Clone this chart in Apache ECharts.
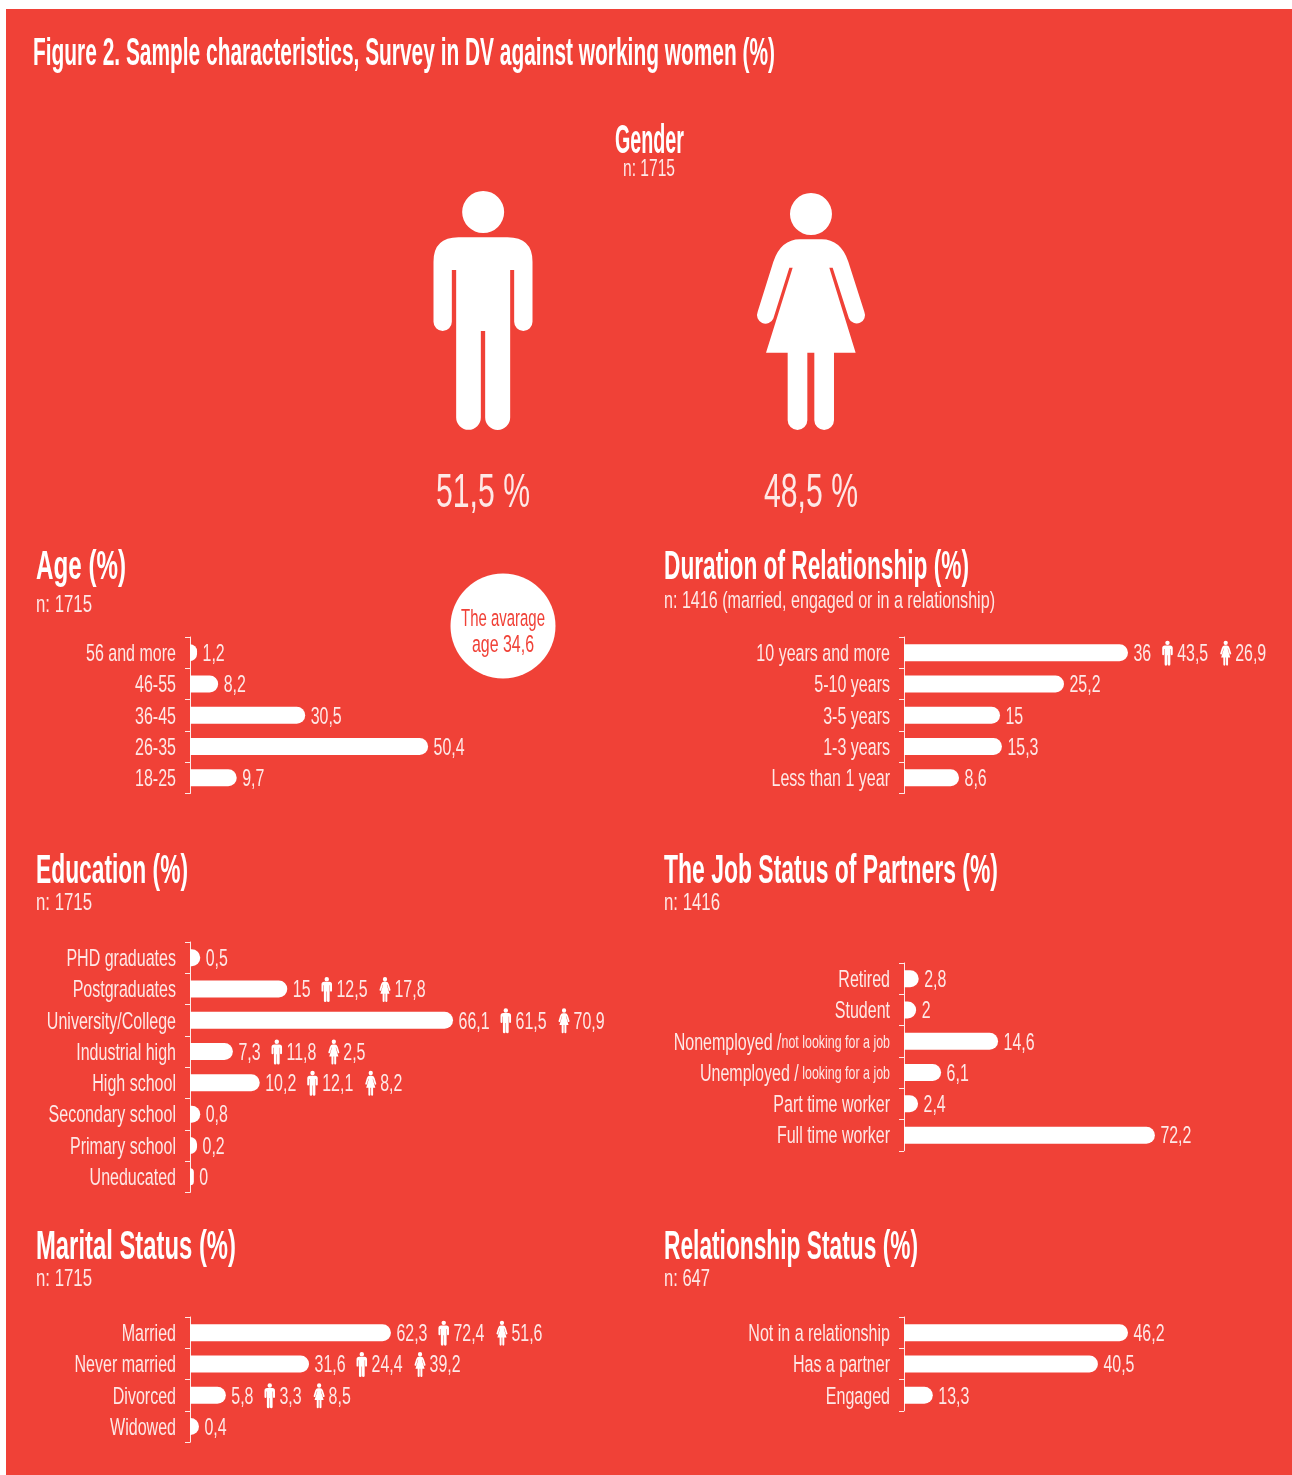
<!DOCTYPE html>
<html><head><meta charset="utf-8">
<style>html,body{margin:0;padding:0;background:#fff}#c{width:1292px;height:1475px}</style>
<script src="https://cdn.jsdelivr.net/npm/echarts@6/dist/echarts.min.js"></script>
</head><body><div id="c"></div>
<script>
// Printed numbers are kept apart from the drawn bar lengths: in the reference the
// bars are not proportional to their printed values, so *Drawn arrays hold the length
// each bar has in the picture (in axis units), and *Values hold the published figure.
const genderLabels = ['51,5 %', '48,5 %'];

const ageCats = ['56 and more', '46-55', '36-45', '26-35', '18-25'];
const ageValues = [1.2, 8.2, 30.5, 50.4, 9.7];
const ageDrawn = [1.1, 4.4, 18, 37.2, 7.3];

const durCats = ['10 years and more', '5-10 years', '3-5 years', '1-3 years', 'Less than 1 year'];
const durValues = [36, 25.2, 15, 15.3, 8.6];
const durDrawn = [35, 25, 15, 15.3, 8.6];
const durMen = [43.5, null, null, null, null];
const durWomen = [26.9, null, null, null, null];

const eduCats = ['PHD graduates', 'Postgraduates', 'University/College', 'Industrial high', 'High school', 'Secondary school', 'Primary school', 'Uneducated'];
const eduValues = [0.5, 15, 66.1, 7.3, 10.2, 0.8, 0.2, 0];
const eduDrawn = [1.6, 15.2, 41.1, 6.7, 10.9, 1.6, 1.1, 0.6];
const eduMen = [null, 12.5, 61.5, 11.8, 12.1, null, null, null];
const eduWomen = [null, 17.8, 70.9, 2.5, 8.2, null, null, null];

const jobCats = ['Retired', 'Student', 'Nonemployed /not looking for a job', 'Unemployed / looking for a job', 'Part time worker', 'Full time worker'];
const jobValues = [2.8, 2, 14.6, 6.1, 2.4, 72.2];
const jobDrawn = [2.3, 1.9, 14.7, 5.8, 2.2, 39.2];

const marCats = ['Married', 'Never married', 'Divorced', 'Widowed'];
const marValues = [62.3, 31.6, 5.8, 0.4];
const marDrawn = [31.4, 18.6, 5.6, 1.4];
const marMen = [72.4, 24.4, 3.3, null];
const marWomen = [51.6, 39.2, 8.5, null];

const relCats = ['Not in a relationship', 'Has a partner', 'Engaged'];
const relValues = [46.2, 40.5, 13.3];
const relDrawn = [35, 30.3, 4.5];

const RED = '#F04137', WHITE = '#fff', SOFT = 'rgba(255,255,255,0.88)';
const FONT = '"Liberation Sans Narrow","Liberation Sans",sans-serif';
const MAN = 'M249 33A63 63 0 1 1 248.9 33ZM100 245Q100 172 175 172L322 172Q397 172 397 245L397 425A27.5 27.5 0 0 1 342 425L342 270L330 270L330 712A37.5 37.5 0 0 1 255 712L255 453L242 453L242 712A37 37 0 0 1 168 712L168 270L155 270L155 425A27.5 27.5 0 0 1 100 425Z';
const WOMAN = 'M1233 39A63 63 0 1 1 1232.9 39ZM1200 178L1265 178Q1322 178 1345 245L1393 395A24 24 0 0 1 1347 415L1298 263L1288 263L1367 518L1302 518L1302 720A29.5 29.5 0 0 1 1243 720L1243 518L1222 518L1222 720A29.5 29.5 0 0 1 1163 720L1163 518L1098 518L1178 263L1168 263L1120 415A24 24 0 0 1 1073 395L1120 245Q1143 178 1200 178Z';

const ctx = document.createElement('canvas').getContext('2d');
const fnt = (size, bold) => (bold ? 'bold ' : '') + size + 'px ' + FONT;
const measure = (t, f) => { ctx.font = f; return ctx.measureText(t).width; };
const S_TXT = 24.5, S_SMALL = 19, S_HEAD = 40, S_BIG = 48;
const SCALE_CAT = 90 / measure('56 and more', fnt(S_TXT));
const SCALE_VAL = 31 / measure('50,4', fnt(S_TXT));
const comma = v => String(v).replace('.', ',');

function T(text, x, y, size, bold, scale, align, fill) {
  return { type: 'text', x, y: y + 1.5, scaleX: scale, silent: true,
    style: { text, x: 0, y: 0, font: fnt(size, bold), fill: fill || (bold ? WHITE : SOFT), align: align || 'left', verticalAlign: 'middle' } };
}
// Text squeezed to the width it has in the reference.
function F(text, x, y, size, bold, width, align, fill) {
  return T(text, x, y, size, bold, width / measure(text, fnt(size, bold)), align, fill);
}
function icon(d, x, cy, w) {
  return { type: 'path', silent: true, shape: { pathData: d, x, y: cy - 12, width: w, height: 25, layout: 'cover' }, style: { fill: WHITE } };
}
function catLabel(text, x, y) {
  const i = text.indexOf('/');
  const el = T(text, x, y, S_TXT, false, SCALE_CAT, 'right');
  if (text.includes('job')) {
    el.style.text = '{a|' + text.slice(0, i + 1) + '}{b|' + text.slice(i + 1) + '}';
    el.style.rich = { a: { font: fnt(S_TXT), fill: SOFT }, b: { font: fnt(S_SMALL), fill: SOFT } };
  }
  return el;
}

function panel(idx, cats, values, drawn, men, women, left, top) {
  const grid = { left, top, width: 384, height: cats.length * 31.3 };
  const xAxis = { gridIndex: idx, type: 'value', min: 0, max: 60, show: false };
  const yAxis = { gridIndex: idx, type: 'category', inverse: true, data: cats,
    axisLine: { show: true, lineStyle: { color: SOFT, width: 1 } },
    axisTick: { show: true, length: 5, lineStyle: { color: SOFT, width: 1 } },
    axisLabel: { show: false }, splitLine: { show: false } };
  const bar = { type: 'bar', xAxisIndex: idx, yAxisIndex: idx, data: drawn, barWidth: 17, silent: true,
    itemStyle: { color: WHITE, borderRadius: [0, 8.5, 8.5, 0] } };
  const labels = { type: 'custom', xAxisIndex: idx, yAxisIndex: idx, silent: true, z: 5,
    encode: { x: 0, y: 1 }, data: drawn.map((d, i) => [d, i]),
    renderItem(params, api) {
      const i = api.value(1);
      const [ex, y] = api.coord([api.value(0), i]);
      const kids = [catLabel(cats[i], left - 14, y)];
      const f = fnt(S_TXT);
      let x = ex + 5.5;
      const put = t => { kids.push(T(t, x, y, S_TXT, false, SCALE_VAL)); x += measure(t, f) * SCALE_VAL; };
      put(comma(values[i]));
      if (men && men[i] != null) {
        x += 11; kids.push(icon(MAN, x, y, 10.5)); x += 15; put(comma(men[i]));
        x += 12; kids.push(icon(WOMAN, x, y, 11)); x += 15; put(comma(women[i]));
      }
      return { type: 'group', children: kids };
    } };
  return { grid, xAxis, yAxis, series: [bar, labels] };
}

const panels = [
  panel(0, ageCats, ageValues, ageDrawn, null, null, 190, 637),
  panel(1, durCats, durValues, durDrawn, durMen, durWomen, 904, 637),
  panel(2, eduCats, eduValues, eduDrawn, eduMen, eduWomen, 190, 942),
  panel(3, jobCats, jobValues, jobDrawn, null, null, 904, 963),
  panel(4, marCats, marValues, marDrawn, marMen, marWomen, 190, 1317),
  panel(5, relCats, relValues, relDrawn, null, null, 904, 1317)
];

// The two large figures sit above their share of the sample.
const genderSeries = { type: 'custom', coordinateSystem: 'none', silent: true, z: 5,
  data: genderLabels.map((l, i) => [i]),
  renderItem(params, api) {
    const i = api.value(0);
    const box = i === 0 ? { pathData: MAN, x: 433.5, y: 191, width: 99, height: 239 }
                        : { pathData: WOMAN, x: 757, y: 193, width: 108, height: 237 };
    return { type: 'group', children: [
      { type: 'path', silent: true, shape: { ...box, layout: 'cover' }, style: { fill: WHITE } },
      F(genderLabels[i], i === 0 ? 483 : 811, 492, S_BIG, false, 94, 'center')
    ] };
  } };

const graphic = [
  { type: 'rect', z: -10, silent: true, shape: { x: 6, y: 9, width: 1286, height: 1466 }, style: { fill: RED } },
  F('Figure 2. Sample characteristics, Survey in DV against working women (%)', 33, 52.5, 39, true, 742),
  F('Gender', 649.5, 140.5, S_HEAD, true, 69, 'center'),
  F('n: 1715', 649, 168, S_TXT, false, 52, 'center'),
  F('Age (%)', 36, 566.5, S_HEAD, true, 90), F('n: 1715', 36, 604, S_TXT, false, 56),
  F('Duration of Relationship (%)', 664, 566.5, S_HEAD, true, 305), F('n: 1416 (married, engaged or in a relationship)', 664, 600, S_TXT, false, 331),
  F('Education (%)', 36, 870.5, S_HEAD, true, 152), F('n: 1715', 36, 902, S_TXT, false, 56),
  F('The Job Status of Partners (%)', 664, 870.5, S_HEAD, true, 334), F('n: 1416', 664, 902, S_TXT, false, 56),
  F('Marital Status (%)', 36, 1246.5, S_HEAD, true, 200), F('n: 1715', 36, 1278, S_TXT, false, 56),
  F('Relationship Status (%)', 664, 1246.5, S_HEAD, true, 254), F('n: 647', 664, 1278, S_TXT, false, 46),
  { type: 'circle', silent: true, shape: { cx: 503, cy: 626, r: 52.5 }, style: { fill: WHITE } },
  F('The avarage', 503, 618, S_TXT, false, 84, 'center', RED),
  F('age 34,6', 503, 644, S_TXT, false, 62, 'center', RED)
];

const chart = echarts.init(document.getElementById('c'), null, { renderer: 'canvas' });
chart.setOption({
  animation: false,
  backgroundColor: '#fff',
  grid: panels.map(p => p.grid),
  xAxis: panels.map(p => p.xAxis),
  yAxis: panels.map(p => p.yAxis),
  series: panels.flatMap(p => p.series).concat(genderSeries),
  graphic: { elements: graphic }
});
</script></body></html>
